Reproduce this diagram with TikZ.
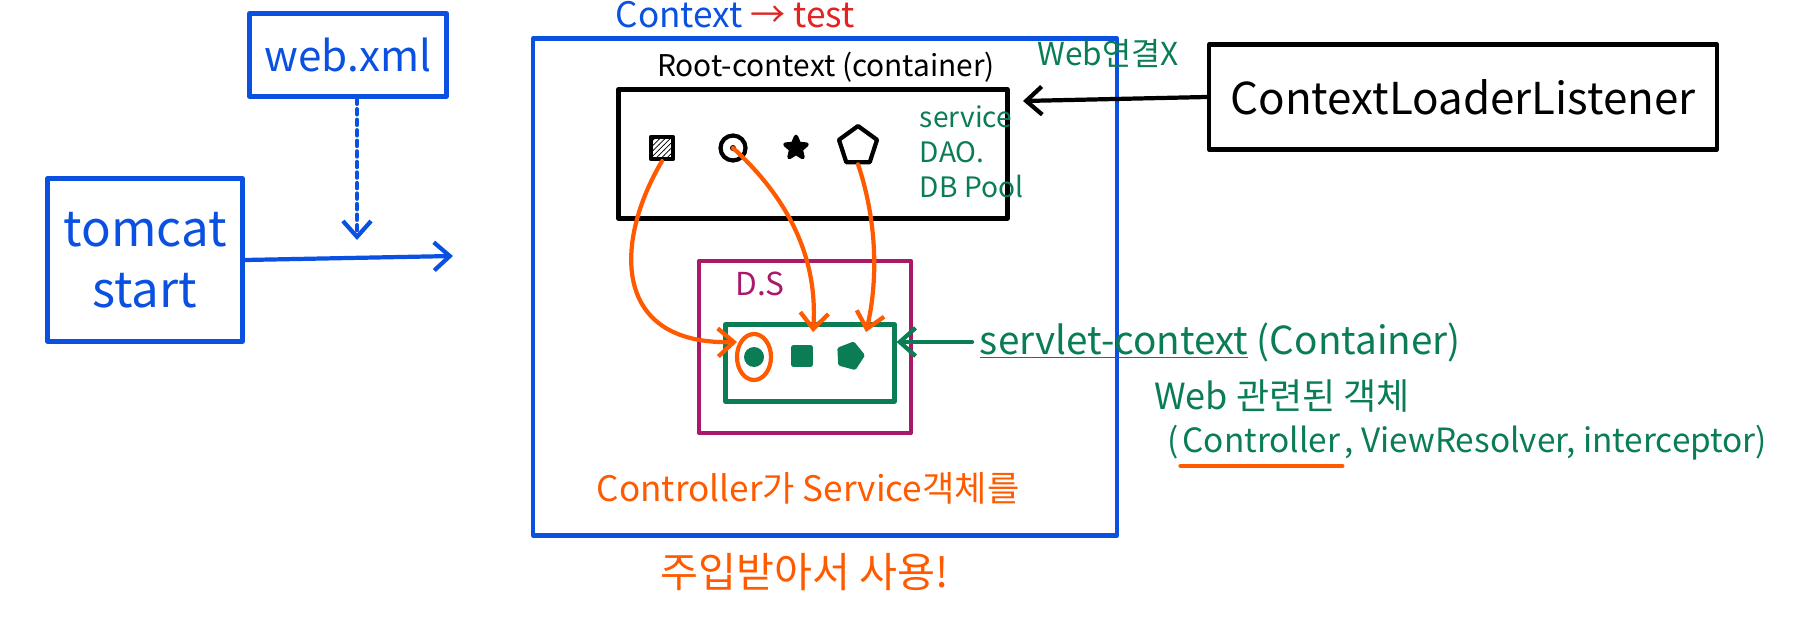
\documentclass[tikz,border=0pt]{standalone}
\usepackage{fontspec}
\setmainfont{Noto Sans CJK KR}
\usetikzlibrary{arrows.meta,positioning,shapes.geometric,patterns}
\definecolor{penblue}{RGB}{10,80,225}
\definecolor{pengreen}{RGB}{10,125,85}
\definecolor{penorange}{RGB}{255,90,0}
\definecolor{penpurple}{RGB}{170,25,105}
\definecolor{penred}{RGB}{225,35,35}
\newcommand{\fs}[1]{\fontsize{#1}{1.25\dimexpr#1pt\relax}\selectfont}
\begin{document}
\begin{tikzpicture}[x=0.02cm,y=-0.02cm,line width=2.4pt,line cap=round,line join=round,
    pen/.style={draw,inner sep=0pt},
    chunk/.style={inner sep=0pt,font=\fs{19},text=pengreen},
    barb/.style={-{Straight Barb[length=9pt,width=16pt,line width=2.4pt]}}]
        \useasboundingbox (0,0) rectangle (1797,635);
        % tomcat and web.xml
        \node[pen,penblue,minimum width=3.94cm,minimum height=1.66cm,font=\fs{24}] (webxml) at (348,55) {web.xml};
        \node[pen,penblue,minimum width=3.9cm,minimum height=3.26cm,font=\fs{28},align=center] (tomcat) at (145,260) {tomcat\\start};
        \coordinate (tomcatend) at (453,256);
        \coordinate (dashend)   at (357,240);
        \draw[penblue,barb] (tomcat.east) -- (tomcatend);
        \draw[penblue,barb,dashed] (dashend |- webxml.south) -- (dashend);
        % context box
        \node[pen,penblue,minimum width=11.68cm,minimum height=9.94cm] (context) at (825,287) {};
        \node[font=\fs{20},inner sep=0pt] (contexttitle) at (735,15) {\color{penblue}Context \color{penred}→ test};
        % root context
        \node[font=\fs{17}] (rootlabel) at (826,67) {Root-context (container)};
        \node[pen,minimum width=7.78cm,minimum height=2.58cm] (root) at (813,154) {};
        \node[pen,minimum size=0.44cm,pattern=north east lines] (sqicon) at (662,148) {};
        \node[pen,circle,minimum size=0.5cm] (ringicon) at (733,148) {};
        \fill (ringicon) circle (3);
        \node[pen,star,star points=5,star point ratio=2.2,fill,minimum size=0.45cm] (staricon) at (796,148) {};
        \node[pen,regular polygon,regular polygon sides=5,minimum size=0.8cm] (penticon) at (858,146) {};
        \node[font=\fs{16},text=pengreen,align=left,anchor=west] (beanlist) at (912,152) {service\\DAO.\\DB Pool};
        \node[font=\fs{18},text=pengreen] (webx) at (1108,54) {Web연결X};
        % listener
        \node[pen,minimum width=10.16cm,minimum height=2.1cm,font=\fs{25}] (listener) at (1463,97) {ContextLoaderListener};
        \coordinate (rootin) at (1023,101);
        \draw[barb] (listener.west) -- (rootin);
        % dispatcher servlet
        \node[pen,penpurple,minimum width=4.24cm,minimum height=3.44cm] (ds) at (805,347) {};
        \node[font=\fs{18},text=penpurple] (dslabel) at (760,284) {D.S};
        \node[pen,pengreen,minimum width=3.38cm,minimum height=1.54cm] (servlet) at (810,363) {};
        \node[circle,fill=pengreen,minimum size=0.4cm,inner sep=0pt] (dotgreen) at (754,357) {};
        \node[pen,pengreen,fill=pengreen,minimum size=0.34cm] (sqgreen) at (802,356) {};
        \node[pen,pengreen,fill=pengreen,regular polygon,regular polygon sides=5,minimum size=0.5cm,rotate=-15] (pentgreen) at (850,356) {};
        \draw[penorange] (dotgreen) ellipse (17 and 23);
        \coordinate (ringin) at (737,342);
        \coordinate (sqin)   at (813,332);
        \coordinate (pentin) at (866,332);
        % injection arrows
        \draw[penorange,barb] (sqicon.south) .. controls (615,240) and (610,345) .. (ringin);
        \draw[penorange,barb] (ringicon.center) .. controls (790,200) and (818,260) .. (sqin);
        \draw[penorange,barb] (penticon.south) .. controls (880,230) and (876,290) .. (pentin);
        % servlet context notes
        \node[font=\fs{22},text=pengreen,anchor=west] (servletlabel) at (972,342) {\underline{servlet-context} (Container)};
        \draw[pengreen,barb] (servletlabel.west) -- (servletlabel.west -| servlet.east);
        \node[font=\fs{20.5},text=pengreen] (webobj) at (1282,396) {Web 관련된 객체};
        \node[chunk,anchor=base west] (wlopen) at (1165,452) {(};
        \node[chunk,anchor=base west] (wlctrl) at (wlopen.base east) {Controller};
        \node[chunk,anchor=base west] (wlrest) at (wlctrl.base east) {, ViewResolver, interceptor)};
        \draw[penorange] ([yshift=-8pt]wlctrl.base west) -- ([yshift=-8pt]wlctrl.base east);
        % orange notes
        \node[font=\fs{20},text=penorange] (note1) at (808,488) {Controller가 Service객체를};
        \node[font=\fs{23.5},text=penorange] (note2) at (805,572) {주입받아서 사용!};
      \end{tikzpicture}
\end{document}
